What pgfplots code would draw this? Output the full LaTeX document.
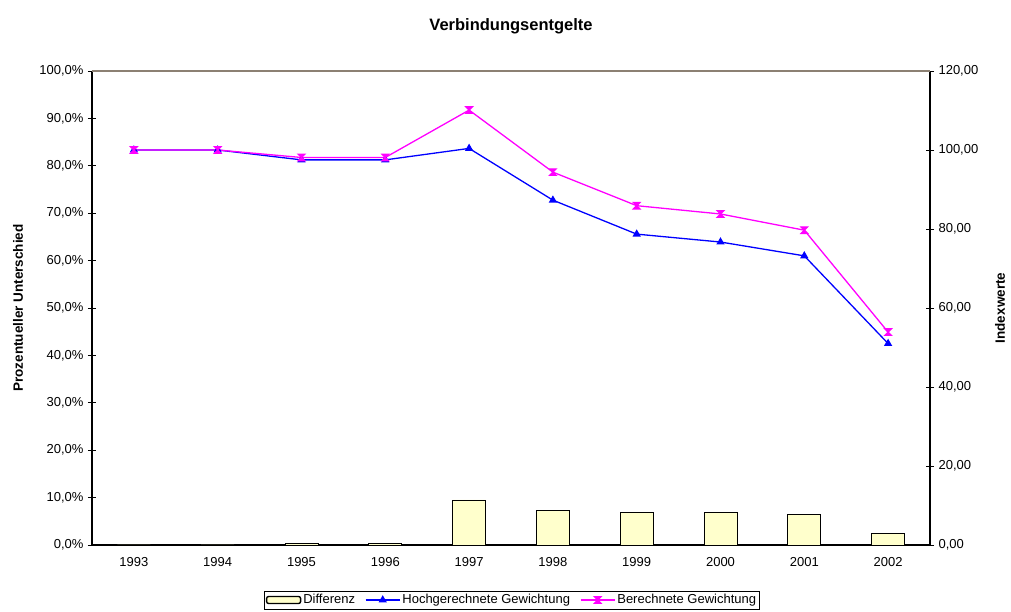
\documentclass[border=0pt]{standalone}
\usepackage{fontspec}
\setmainfont{Liberation Sans}
\usepackage{pgfplots}
\pgfplotsset{compat=1.18}
\definecolor{baryel}{HTML}{FFFFCC}
\definecolor{lblue}{HTML}{0000FF}
\definecolor{lpink}{HTML}{FF00FF}
\pgfdeclareplotmark{hourglass}{%
  \pgfpathmoveto{\pgfqpoint{-\pgfplotmarksize}{\pgfplotmarksize}}%
  \pgfpathlineto{\pgfqpoint{\pgfplotmarksize}{\pgfplotmarksize}}%
  \pgfpathlineto{\pgfqpoint{-\pgfplotmarksize}{-\pgfplotmarksize}}%
  \pgfpathlineto{\pgfqpoint{\pgfplotmarksize}{-\pgfplotmarksize}}%
  \pgfpathclose
  \pgfusepathqfillstroke}
\begin{document}
\begin{tikzpicture}
\useasboundingbox (-92pt,-67pt) rectangle (919pt,545pt);
\pgfplotsset{
  every axis/.append style={
    scale only axis, width=838pt, height=474pt,
    at={(0pt,0pt)}, anchor=south west,
    xmin=-0.5, xmax=9.5,
    font=\fontsize{13}{15}\selectfont,
    /pgf/number format/assume math mode=true,
    tick align=center,
    major tick length=8pt,
    tick style={black, line width=0.8pt},
    axis line style={black, line width=1.2pt},
  }
}
\begin{axis}[
  axis x line*=bottom, axis y line*=left,
  ymin=0, ymax=100,
  ytick={0,10,...,100},
  yticklabel={\pgfmathprintnumber[fixed,fixed zerofill,precision=1,use comma]{\tick}\%},
  xtick={0,...,9},
  xticklabels={1993,1994,1995,1996,1997,1998,1999,2000,2001,2002},
  x tick style={draw=none},
  minor xtick={-0.5,0.5,...,9.5},
  minor tick length=8pt,
  minor tick style={black, line width=0.8pt},
  xticklabel style={yshift=-1pt},
  yticklabel style={xshift=-1pt},
  ylabel={\bfseries Prozentueller Unterschied},
  ylabel style={at={(axis description cs:-0.0883,0.5)}, anchor=center, font=\fontsize{13.5}{15}\selectfont},
  ybar, bar width=33pt,
]
\addplot[ybar, fill=baryel, draw=black, line width=0.8pt] coordinates {
(0,0) (1,0) (2,0.35) (3,0.35) (4,9.5) (5,7.25) (6,6.9) (7,6.9) (8,6.45) (9,2.45)};
\end{axis}
\begin{axis}[
  axis x line=none, axis y line*=right,
  ymin=0, ymax=120,
  ytick={0,20,...,120},
  yticklabel={\pgfmathprintnumber[fixed,fixed zerofill,precision=2,use comma]{\tick}},
  yticklabel style={xshift=1pt},
  ylabel={\bfseries Indexwerte},
  ylabel style={at={(axis description cs:1.0835,0.5)}, anchor=center, rotate=0, font=\fontsize{13.5}{15}\selectfont},
  title={\bfseries Verbindungsentgelte},
  title style={at={(axis description cs:0.5,1)}, anchor=center, yshift=39pt, font=\fontsize{16.5}{19}\selectfont},
  legend columns=3,
  legend style={at={(420pt,-55pt)}, anchor=center, draw=black, line width=0.8pt,
    font=\fontsize{13}{15}\selectfont, inner sep=1.5pt, row sep=0pt,
    /tikz/every even column/.append style={column sep=8pt}},
  legend cell align=left,
  legend image code/.code={\draw[mark repeat=2, mark phase=2, #1] plot coordinates {(0pt,0pt) (17pt,0pt) (34pt,0pt)};},
]
\addlegendimage{legend image code/.code={\draw[fill=baryel, draw=black, line width=1.4pt, rounded corners=2pt] (0pt,-3.5pt) rectangle (34pt,3.5pt);}}
\addlegendentry{Differenz}
\addplot[lblue, line width=1.3pt, mark=triangle*, mark size=3.5pt, mark options={solid}] coordinates {
(0,100) (1,100) (2,97.5) (3,97.5) (4,100.4) (5,87.3) (6,78.7) (7,76.7) (8,73.2) (9,51.0)};
\addlegendentry{Hochgerechnete Gewichtung}
\addplot[lpink, line width=1.3pt, mark=hourglass, mark size=3.2pt, mark options={solid}] coordinates {
(0,100) (1,100) (2,98.1) (3,98.1) (4,110.1) (5,94.4) (6,85.9) (7,83.8) (8,79.7) (9,53.9)};
\addlegendentry{Berechnete Gewichtung}
\draw[gray!80!brown, line width=1.2pt] (rel axis cs:0,1) -- (rel axis cs:1,1);
\end{axis}
\end{tikzpicture}
\end{document}
